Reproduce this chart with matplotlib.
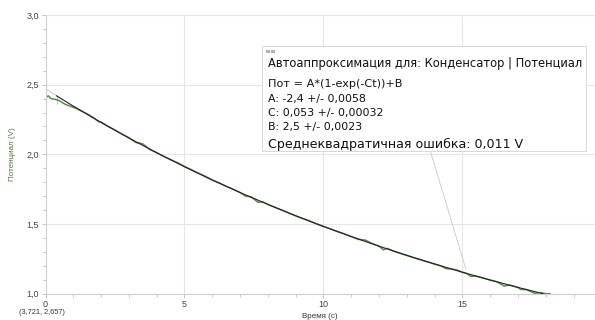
import numpy as np
import matplotlib.pyplot as plt
from matplotlib.patches import Rectangle
from matplotlib.ticker import MultipleLocator, FuncFormatter

# ---------------------------------------------------------
# Data
# ---------------------------------------------------------
t_data = [0.0, 0.1, 0.2, 0.35, 0.5, 0.7, 0.9, 1.1, 1.3, 1.5, 1.75, 1.9, 2.0,
          2.25, 2.5, 2.75, 3.0, 3.25, 3.4, 3.5, 3.75, 4.0, 4.25, 4.5, 4.75,
          5.0, 5.25, 5.5, 5.75, 6.0, 6.25, 6.5, 6.75, 7.0, 7.2, 7.4, 7.65,
          7.8, 8.0, 8.25, 8.5, 8.75, 9.0, 9.25, 9.5, 9.75, 10.0, 10.25, 10.5,
          10.75, 11.0, 11.25, 11.5, 11.75, 12.0, 12.15, 12.3, 12.5, 12.75,
          13.0, 13.25, 13.5, 13.75, 14.0, 14.25, 14.4, 14.6, 14.8, 15.0,
          15.15, 15.3, 15.5, 15.75, 16.0, 16.25, 16.5, 16.7, 17.0, 17.1,
          17.3, 17.6, 17.8, 18.0, 18.15]
v_data = [2.405, 2.42, 2.400, 2.395, 2.385, 2.36, 2.345, 2.33, 2.31, 2.290,
          2.26, 2.235, 2.232, 2.20, 2.175, 2.145, 2.12, 2.085, 2.080, 2.075,
          2.035, 2.012, 1.985, 1.962, 1.94, 1.913, 1.89, 1.865, 1.842, 1.816,
          1.795, 1.771, 1.75, 1.726, 1.700, 1.695, 1.655, 1.660, 1.641, 1.62,
          1.600, 1.58, 1.559, 1.54, 1.522, 1.50, 1.483, 1.465, 1.446, 1.43,
          1.410, 1.39, 1.385, 1.36, 1.341, 1.315, 1.325, 1.307, 1.29, 1.275,
          1.258, 1.243, 1.228, 1.213, 1.198, 1.180, 1.178, 1.17, 1.154,
          1.145, 1.125, 1.126, 1.112, 1.098, 1.085, 1.055, 1.062, 1.045,
          1.03, 1.03, 1.003, 1.008, 1.0, 1.0]

# fitted curve (Pot = A*(1-exp(-Ct))+B), read at whole seconds
t_fit = [0.4, 1, 2, 3, 4, 5, 6, 7, 8, 9, 10, 11, 12, 13, 14, 15, 16, 17, 17.9]
v_fit = [2.420, 2.346, 2.229, 2.117, 2.012, 1.911, 1.816, 1.726, 1.641,
         1.559, 1.483, 1.410, 1.341, 1.275, 1.213, 1.154, 1.098, 1.045, 1.0]

# thin extension of the fit towards t = 0
t_ext = [0.0, 0.4]
v_ext = [2.47, 2.42]

fit_lines = ['Автоаппроксимация для: Конденсатор | Потенциал',
             'Пот = A*(1-exp(-Ct))+B',
             'A: -2,4 +/- 0,0058',
             'C: 0,053 +/- 0,00032',
             'B: 2,5 +/- 0,0023',
             'Среднеквадратичная ошибка: 0,011 V']

# ---------------------------------------------------------
# Figure
# ---------------------------------------------------------
W, H = 595, 320
fig = plt.figure(figsize=(W / 100, H / 100), dpi=100)
ax = fig.add_axes([45.5 / W, 1 - 293.7 / H, 1 - 45.5 / W, (293.7 - 15) / H])

ax.set_xlim(0, 19.77)
ax.set_ylim(1.0, 3.0)

grid_c = '#e6e6e6'
ax.xaxis.set_major_locator(MultipleLocator(5))
ax.xaxis.set_minor_locator(MultipleLocator(1))
ax.yaxis.set_major_locator(MultipleLocator(0.5))
ax.yaxis.set_minor_locator(MultipleLocator(0.1))
ax.grid(True, which='major', color=grid_c, lw=0.8)
ax.set_axisbelow(True)

comma = FuncFormatter(lambda v, p: f'{v:.1f}'.replace('.', ','))
ax.yaxis.set_major_formatter(comma)
ax.xaxis.set_major_formatter(FuncFormatter(lambda v, p: f'{v:.0f}'))

for s in ['top', 'right']:
    ax.spines[s].set_visible(False)
for s in ['left', 'bottom']:
    ax.spines[s].set_color('#cfcfcf')
    ax.spines[s].set_linewidth(0.8)

ax.tick_params(which='both', direction='out', color='#bbbbbb', width=0.6,
               labelsize=6.5, labelcolor='#444444')
ax.tick_params(which='major', length=3, pad=1.5)
ax.tick_params(which='minor', length=2)
for lab in ax.get_xticklabels() + ax.get_yticklabels():
    lab.set_family('Liberation Sans')

ax.set_xlabel('Время (с)', fontsize=5.8, family='Liberation Sans',
              color='#333333', labelpad=3)
ax.set_ylabel('Потенциал (V)', fontsize=5.8, family='Liberation Sans',
              color='#4a7a3a', labelpad=8)

# data and fit
ax.plot(t_ext, v_ext, color='#c8c8c8', lw=0.7)
ax.plot([0.4, 0.4], [2.42, 2.36], color='#c8c8c8', lw=0.7)
ax.plot(t_data, v_data, color='#5b8a4c', lw=1.1)
ax.plot(t_fit, v_fit, color='#222222', lw=0.8)

# leader from the fit box to the curve
ax.annotate('', xy=(15.15, 1.16), xycoords='data',
            xytext=(430 / W, 1 - 150 / H), textcoords='figure fraction',
            arrowprops=dict(arrowstyle='-', color='#c8c8c8', lw=0.6))

# fit info box
bx0, by0, bx1, by1 = 262, 46, 586, 151
fig.patches.append(Rectangle((bx0 / W, 1 - by1 / H), (bx1 - bx0) / W,
                             (by1 - by0) / H, transform=fig.transFigure,
                             facecolor='white', edgecolor='#d8d8d8', lw=0.7,
                             zorder=5))
for i in range(2):
    fig.patches.append(Rectangle(((266 + i * 5) / W, 1 - 53 / H), 4 / W,
                                 3 / H, transform=fig.transFigure,
                                 facecolor='#b0b0b0', edgecolor='none',
                                 zorder=6))

line_y = [63, 84, 99, 113, 127, 144]
line_fs = [8.3, 8.1, 7.9, 7.9, 7.9, 9.1]
for txt, yy, fs in zip(fit_lines, line_y, line_fs):
    fig.text(268 / W, 1 - yy / H, txt, fontsize=fs, va='center', ha='left',
             color='#111111', zorder=7)

fig.text(42 / W, 1 - 313 / H, '(3,721, 2,657)', fontsize=5.3,
         family='Liberation Sans', color='#333333', ha='center', va='center')

fig.savefig('out.png', dpi=100)
